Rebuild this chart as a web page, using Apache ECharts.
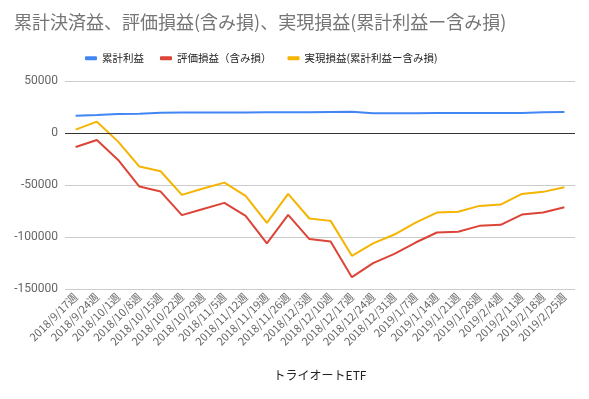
<!DOCTYPE html>
<html>
<head>
<meta charset="utf-8">
<script src="https://cdn.jsdelivr.net/npm/echarts@6/dist/echarts.min.js"></script>
<style>
  html, body { margin: 0; padding: 0; background: #fff; }
  #chart { width: 589px; height: 399px; }
</style>
</head>
<body>
<div id="chart"></div>
<script>
// 週
var weeks = ['2018/9/17週','2018/9/24週','2018/10/1週','2018/10/8週','2018/10/15週','2018/10/22週',
  '2018/10/29週','2018/11/5週','2018/11/12週','2018/11/19週','2018/11/26週','2018/12/3週',
  '2018/12/10週','2018/12/17週','2018/12/24週','2018/12/31週','2019/1/7週','2019/1/14週',
  '2019/1/21週','2019/1/28週','2019/2/4週','2019/2/11週','2019/2/18週','2019/2/25週'];

var ruikeiRieki = [16600,17200,18200,18600,19400,19600,19700,19700,19800,19900,19900,20000,
  20200,20400,19000,18900,18900,19200,19300,19300,19300,19300,20000,20100];

var hyoukaSoneki = [-13400,-6700,-25900,-51500,-56300,-79000,-73000,-67200,-79700,-106200,-78700,-102000,
  -104300,-138600,-125100,-116200,-105300,-95700,-95000,-89300,-88300,-78400,-76500,-71400];

var jitsugenSoneki = [3200,10900,-8300,-32300,-36800,-59500,-53400,-47700,-60500,-86400,-58600,-82200,
  -84500,-118100,-106200,-97600,-86100,-76500,-75800,-70100,-68800,-58600,-56600,-52200];

var yTicks = [-150000, 50000, 50000]; // min, max, interval

var myChart = echarts.init(document.getElementById('chart'));

function lineSeries(name, data, color){
  return {
    name: name,
    type: 'line',
    data: data,
    symbol: 'none',
    lineStyle: { color: color, width: 2 },
    itemStyle: { color: color }
  };
}

var option = {
  animation: false,
  textStyle: { fontFamily: '"Noto Sans CJK JP", "Liberation Sans", sans-serif' },
  title: {
    text: '累計決済益、評価損益(含み損)、実現損益(累計利益ー含み損)',
    left: 9,
    top: 8,
    textStyle: { fontSize: 18, fontWeight: 'normal', color: '#757575' }
  },
  legend: {
    top: 48,
    left: 80,
    icon: 'roundRect',
    itemWidth: 12,
    itemHeight: 4,
    itemGap: 16,
    textStyle: { fontSize: 10.5, color: '#222' },
    data: ['累計利益', '評価損益（含み損）', '実現損益(累計利益ー含み損)']
  },
  grid: { left: 65, right: 14, top: 81, bottom: 110 },
  xAxis: {
    type: 'category',
    data: weeks,
    boundaryGap: true,
    name: 'トライオートETF',
    nameLocation: 'middle',
    nameGap: 80,
    nameTextStyle: { fontSize: 12, color: '#222' },
    axisLine: { show: false },
    axisTick: { show: false },
    axisLabel: { rotate: 45, interval: 0, fontSize: 11, color: '#666', margin: 6 }
  },
  yAxis: {
    type: 'value',
    min: yTicks[0],
    max: yTicks[1],
    interval: yTicks[2],
    axisLine: { show: false },
    axisTick: { show: false },
    axisLabel: {
      fontSize: 12, color: '#666', margin: 7,
      fontFamily: 'Roboto, "Liberation Sans", sans-serif',
      formatter: function(v){ return String(v); }
    },
    splitLine: { lineStyle: { color: '#ccc', width: 1 } }
  },
  series: [
    lineSeries('累計利益', ruikeiRieki, '#4285f4'),
    Object.assign(lineSeries('評価損益（含み損）', hyoukaSoneki, '#db4437'), {
      markLine: {
        silent: true,
        symbol: 'none',
        label: { show: false },
        lineStyle: { color: '#333', width: 1, type: 'solid' },
        data: [{ yAxis: 0 }]
      }
    }),
    lineSeries('実現損益(累計利益ー含み損)', jitsugenSoneki, '#f4b400')
  ]
};

myChart.setOption(option, true);
</script>
</body>
</html>
